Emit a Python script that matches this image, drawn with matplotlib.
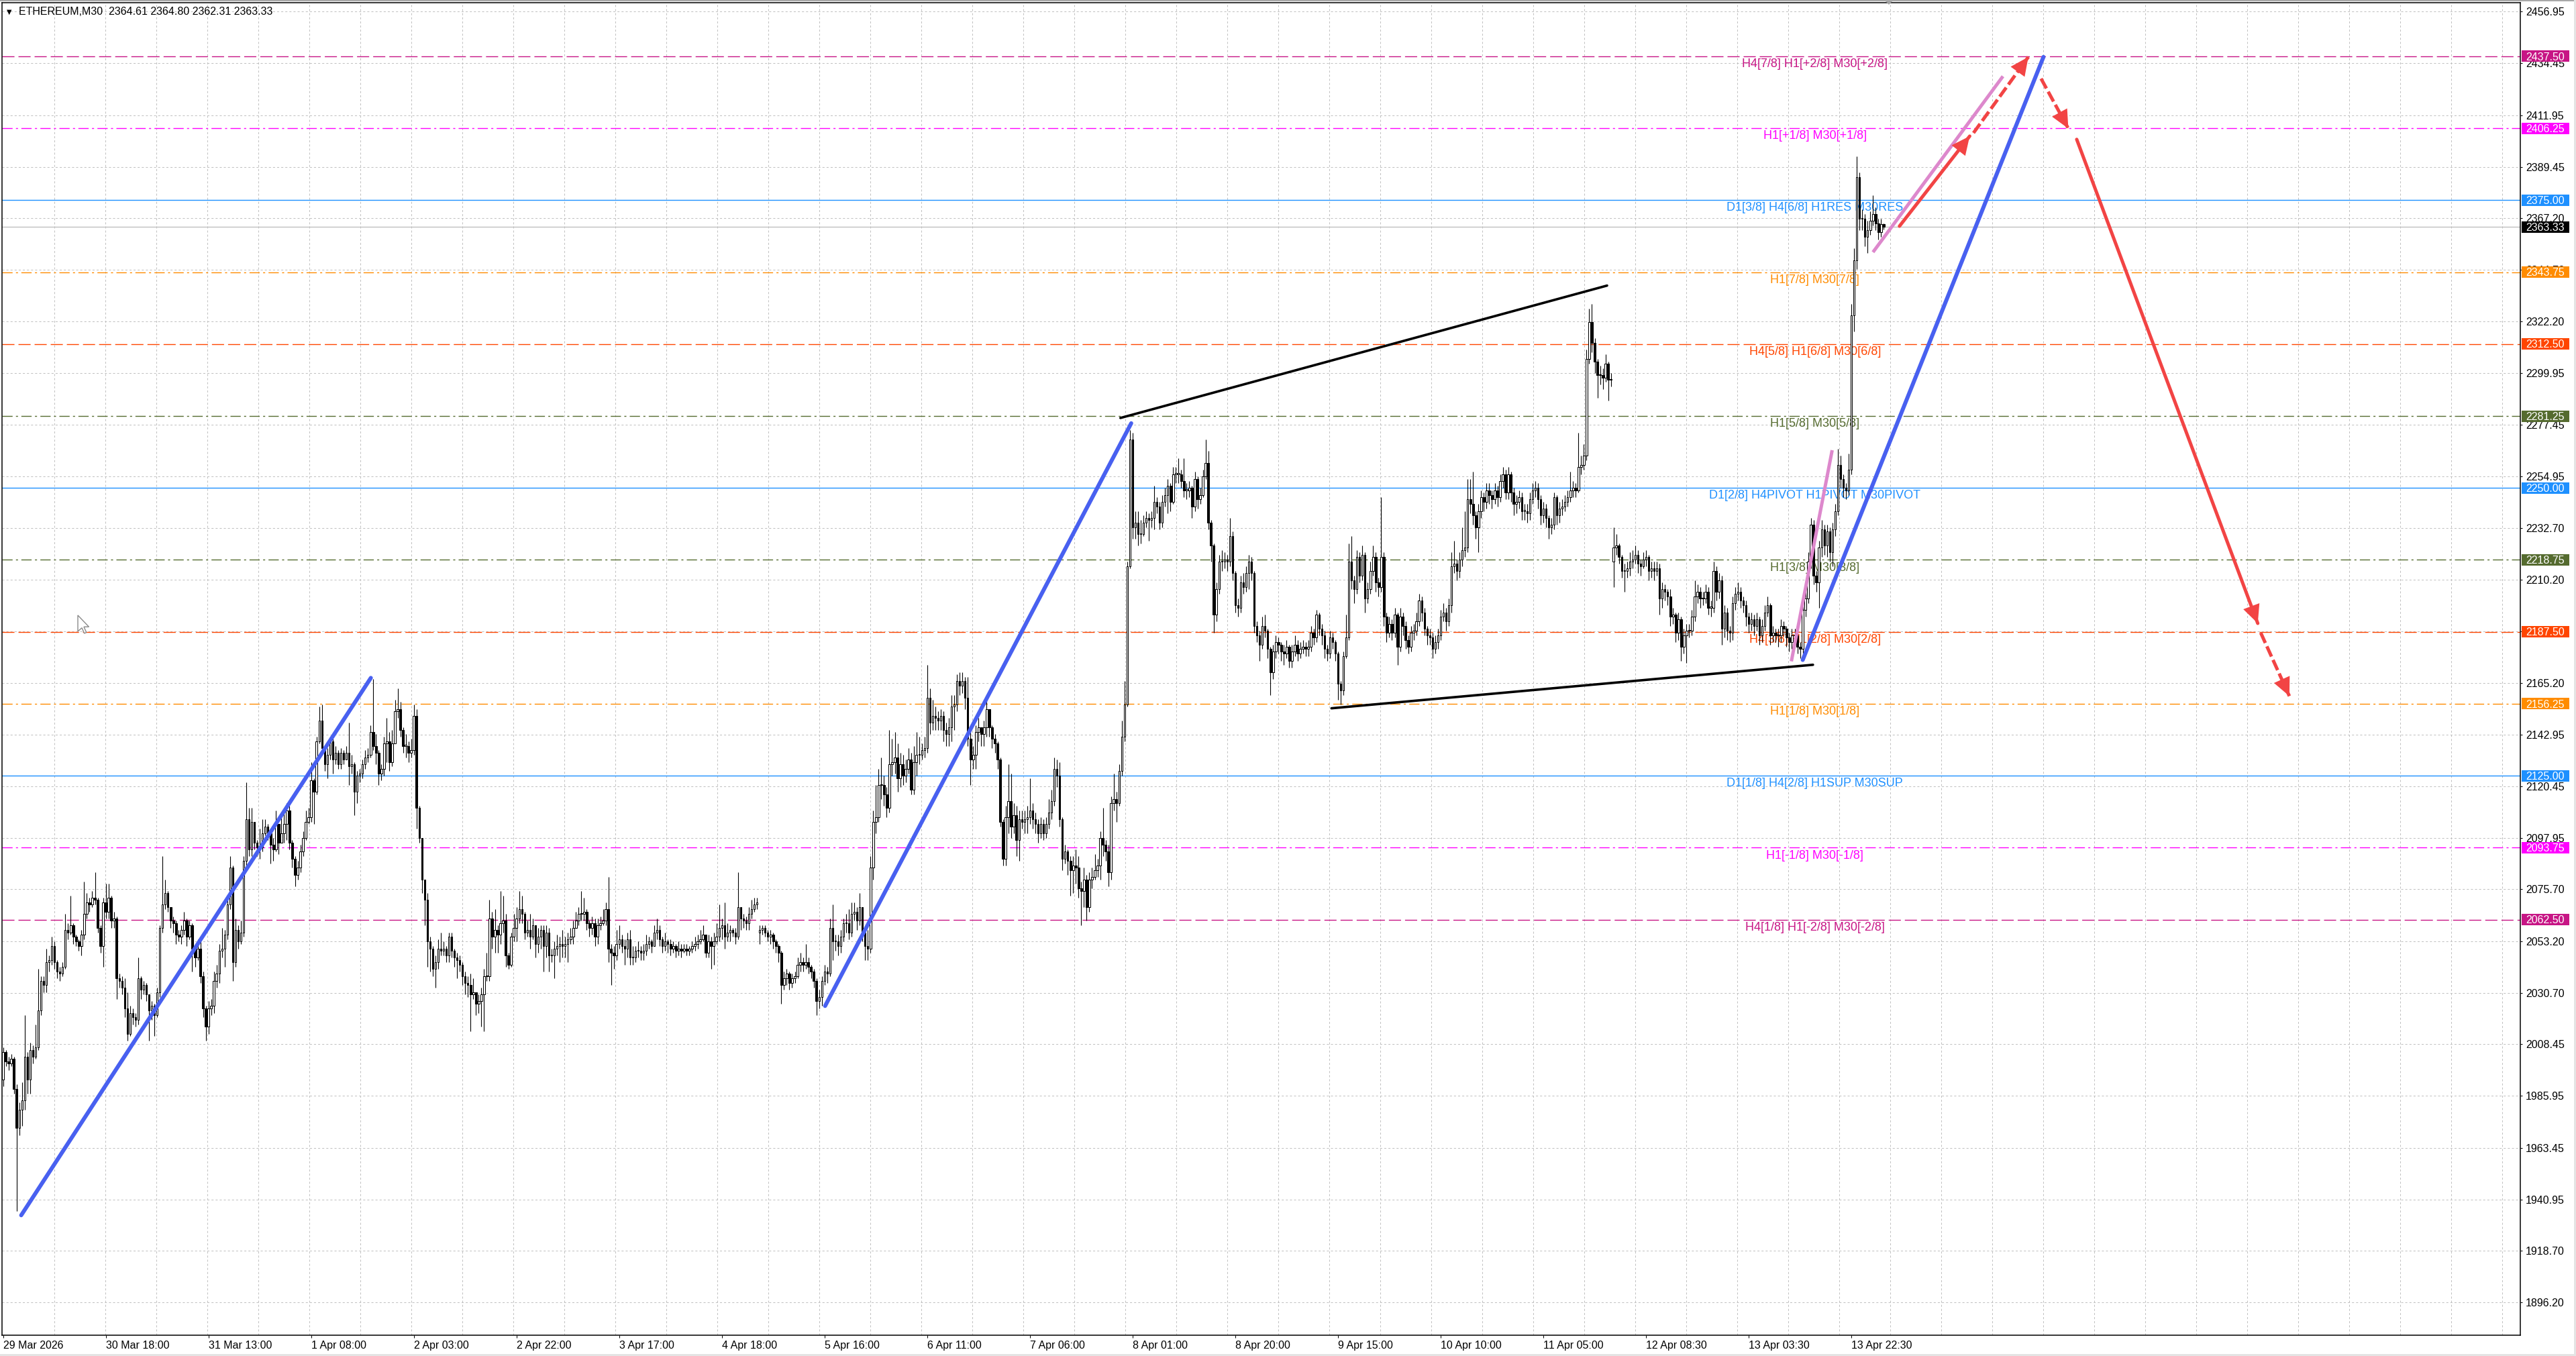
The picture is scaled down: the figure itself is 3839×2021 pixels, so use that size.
"""ETHEREUM M30 chart with Murrey-style levels and drawn projection lines."""

import matplotlib

matplotlib.use("Agg")
import matplotlib.pyplot as plt
import numpy as np
from matplotlib import font_manager
from matplotlib.patches import Polygon, Rectangle
from matplotlib.transforms import IdentityTransform

plt.rcParams["lines.scale_dashes"] = False

# ---------------------------------------------------------------- data
SYMBOL = "ETHEREUM,M30"
LAST_OHLC = [2364.61, 2364.80, 2362.31, 2363.33]

OPEN0 = 1993
GAP_OPENS = {280: 2057, 596: 2218}

CLOSES = [
    2005, 2001, 2000, 2002, 1989, 1972, 1980, 1984, 2003, 1993,
    2006, 2003, 2007, 2023, 2036, 2034, 2044, 2045, 2051, 2044,
    2040, 2039, 2042, 2058, 2057, 2060, 2055, 2053, 2051, 2056,
    2065, 2070, 2069, 2072, 2071, 2059, 2051, 2070, 2066, 2072,
    2062, 2063, 2037, 2036, 2033, 2024, 2013, 2022, 2020, 2019,
    2037, 2032, 2034, 2030, 2023, 2025, 2021, 2031, 2059, 2069,
    2074, 2068, 2062, 2061, 2056, 2055, 2058, 2062, 2055, 2060,
    2050, 2046, 2050, 2038, 2024, 2016, 2024, 2025, 2036, 2039,
    2049, 2050, 2056, 2069, 2085, 2044, 2058, 2053, 2057, 2088,
    2106, 2093, 2105, 2096, 2094, 2094, 2100, 2103, 2100, 2095,
    2093, 2104, 2096, 2100, 2104, 2110, 2096, 2089, 2082, 2085,
    2092, 2098, 2105, 2107, 2123, 2118, 2140, 2149, 2137, 2130,
    2134, 2140, 2132, 2135, 2130, 2135, 2132,
    2135, 2129, 2130, 2118, 2125, 2126, 2130, 2133, 2134,
    # 136
    2144, 2138, 2135, 2126, 2128, 2139, 2140, 2131, 2139, 2153,
    2154, 2145, 2138, 2138, 2135, 2136, 2151, 2111, 2098, 2080,
    2071, 2053, 2050, 2041, 2044, 2050, 2049, 2050, 2047, 2055,
    2049, 2046, 2045, 2043, 2038, 2035, 2034, 2030, 2031, 2026,
    2027, 2030, 2038, 2038, 2063, 2055, 2058, 2056, 2061, 2062,
    2047, 2043, 2055, 2059, 2063, 2067, 2065, 2057, 2058, 2055,
    2060, 2052, 2055, 2058, 2051, 2057, 2047, 2047, 2050, 2051,
    2052, 2051, 2052, 2054, 2055, 2059, 2062, 2065, 2065, 2066,
    2061, 2059, 2061, 2055, 2060, 2061, 2062, 2067, 2050, 2048,
    2047, 2052, 2054, 2051, 2050, 2054, 2046, 2046, 2049, 2049,
    2048, 2049, 2052, 2053, 2051, 2057, 2058, 2054, 2051, 2053,
    2052, 2050, 2051, 2049, 2050, 2049, 2050, 2049, 2050, 2051,
    2052, 2053, 2054, 2056, 2048, 2053, 2051, 2053, 2055, 2059,
    2060, 2055, 2057, 2058, 2057, 2055, 2068,
    # 273
    2063, 2062, 2061, 2065, 2067, 2069, 2070, 2058, 2059, 2057,
    2055, 2056, 2053, 2051, 2048, 2034, 2037, 2039, 2035, 2037,
    2038, 2043, 2044, 2043, 2044, 2042, 2040, 2036, 2027, 2029,
    2036, 2040, 2039, 2059, 2053, 2053, 2051, 2055, 2061, 2061,
    2057, 2065, 2066, 2062, 2068, 2057, 2051, 2050, 2085, 2105,
    2107, 2121, 2121, 2117, 2111, 2130, 2131, 2133, 2124, 2130,
    2125, 2128, 2132, 2119, 2131, 2134, 2134, 2136, 2137, 2159,
    2148, 2151,
    2150, 2149, 2151, 2145, 2143, 2146, 2155, 2156, 2166, 2164,
    2166, 2159, 2141, 2132, 2134, 2144, 2146, 2143, 2146, 2154,
    2146, 2141, 2139, 2132, 2105, 2089, 2107, 2114, 2103, 2108,
    2097, 2106, 2105, 2106,
    2107, 2110, 2106, 2104, 2100, 2104, 2100, 2104, 2109, 2114,
    2128, 2125, 2106, 2089, 2092, 2088, 2084, 2086, 2085, 2076,
    2075, 2080, 2068, 2080, 2081, 2084, 2086, 2098, 2095, 2092,
    2083, 2113, 2115, 2113, 2127, 2142, 2156, 2216, 2271, 2233,
    2235, 2230,
    # 421
    2230, 2235, 2237, 2236, 2237, 2244, 2242, 2235, 2244, 2247,
    2251, 2244, 2256, 2256, 2256, 2253, 2249, 2249, 2250, 2242,
    2254, 2245, 2247, 2255, 2261, 2235, 2225, 2195, 2206, 2218,
    2218, 2219, 2218, 2229, 2213, 2199, 2198, 2209, 2207, 2213,
    2218, 2213, 2190, 2186, 2182, 2190, 2188, 2180, 2170, 2179,
    2183, 2182, 2179, 2178, 2181, 2175, 2179, 2182, 2178, 2180,
    2181, 2180, 2181, 2187, 2185, 2195, 2189, 2186, 2180, 2178,
    2185, 2183, 2178, 2165, 2162, 2177, 2185, 2218, 2210, 2206,
    2220, 2212, 2221, 2202, 2206, 2214,
    2220, 2209, 2207, 2220, 2194, 2187, 2191, 2187, 2195, 2181,
    2194, 2190, 2184, 2181, 2187, 2188, 2192, 2201, 2196, 2189,
    2186, 2185, 2180, 2183, 2186, 2194, 2196, 2192, 2199, 2216,
    2217, 2214, 2219, 2223, 2224, 2245, 2243, 2238, 2233, 2240,
    2246, 2244, 2249, 2247, 2245, 2249, 2246, 2253, 2256, 2248,
    2256, 2248, 2243, 2244, 2246, 2240, 2240, 2239, 2245, 2249,
    2250,
    2245, 2238, 2241, 2237, 2233, 2234, 2246, 2238, 2241, 2242,
    2244, 2246, 2249, 2250, 2249, 2259, 2260, 2264, 2306, 2322,
    2313, 2305, 2299, 2299, 2298, 2304, 2297, 2297,
    # 596
    2224, 2225, 2220, 2214, 2214, 2215, 2218, 2219, 2221, 2217,
    2216, 2219, 2220, 2214, 2215, 2214, 2215, 2202, 2206, 2205,
    2203, 2194, 2195, 2187, 2193, 2181, 2186, 2188, 2188, 2194,
    2203, 2205, 2202, 2202, 2205, 2198, 2198, 2214, 2205, 2210,
    2189, 2196, 2188, 2187, 2200, 2204, 2205, 2201, 2199, 2194,
    2191, 2193, 2190, 2193, 2186, 2190, 2196, 2199, 2186, 2187,
    2186, 2186, 2190, 2189, 2185, 2183, 2186, 2186, 2181, 2180,
    2197, 2202, 2218, 2234, 2212, 2209, 2224, 2232, 2225, 2231,
    2222, 2232, 2240, 2260, 2254, 2250, 2249, 2258, 2325, 2349,
    2385, 2367, 2367, 2359, 2362, 2366, 2369, 2365, 2361, 2364.61, 2363.33,
]

HIGHS = [
    2007, 2006, 2003, 2004, 2003, 1991, 1983, 1992, 2021, 2005,
    2009, 2008, 2017, 2041, 2038, 2038, 2050, 2047, 2055, 2053,
    2045, 2042, 2044, 2065, 2061, 2073, 2061, 2056, 2054, 2058,
    2079, 2074, 2072, 2075, 2083, 2072, 2060, 2072, 2078, 2078,
    2073, 2066, 2064, 2039, 2038, 2037, 2031, 2025, 2024, 2022,
    2046, 2038, 2036, 2035, 2030, 2027, 2026, 2033, 2060, 2090,
    2080, 2075, 2068, 2064, 2062, 2058, 2060, 2066, 2063, 2062,
    2061, 2052, 2054, 2053, 2040, 2025, 2027, 2028, 2040, 2043,
    2052, 2059, 2058, 2072, 2090, 2086, 2063, 2060, 2062, 2090,
    2122, 2111, 2111, 2103, 2097, 2102, 2106, 2106, 2104, 2101,
    2098, 2110, 2099, 2108, 2109, 2113, 2112, 2097, 2090, 2088,
    2095, 2101, 2110, 2111, 2131, 2124, 2142, 2155, 2156, 2138,
    2137, 2142, 2141, 2138, 2136, 2137, 2136,
    2138, 2148, 2134, 2131, 2127, 2128, 2132, 2136, 2137,
    2147, 2167, 2143, 2136, 2130, 2142, 2150, 2144, 2145, 2158,
    2163, 2157, 2146, 2143, 2140, 2141, 2156, 2154, 2112, 2098,
    2080, 2074, 2055, 2051, 2047, 2054, 2057, 2053, 2051, 2057,
    2057, 2050, 2048, 2047, 2044, 2040, 2038, 2039, 2037, 2031,
    2030, 2033, 2041, 2048, 2071, 2066, 2067, 2060, 2075, 2073,
    2065, 2048, 2057, 2065, 2068, 2075, 2073, 2066, 2062, 2065,
    2063, 2060, 2059, 2060, 2060, 2060, 2059, 2050, 2053, 2056,
    2055, 2058, 2055, 2057, 2059, 2062, 2066, 2068, 2075, 2072,
    2067, 2062, 2064, 2063, 2063, 2064, 2067, 2070, 2081, 2052,
    2051, 2058, 2060, 2056, 2054, 2057, 2058, 2051, 2051, 2053,
    2051, 2052, 2056, 2055, 2054, 2060, 2063, 2060, 2055, 2057,
    2054, 2054, 2053, 2052, 2053, 2052, 2052, 2052, 2051, 2053,
    2055, 2056, 2058, 2060, 2051, 2056, 2055, 2057, 2061, 2069,
    2063, 2070, 2061, 2060, 2059, 2059, 2083,
    2068, 2065, 2064, 2068, 2071, 2072, 2072, 2060, 2060, 2060,
    2058, 2058, 2057, 2054, 2052, 2049, 2040, 2041, 2040, 2039,
    2040, 2046, 2048, 2046, 2052, 2046, 2043, 2041, 2037, 2032,
    2038, 2043, 2042, 2063, 2069, 2056, 2056, 2058, 2063, 2065,
    2067, 2070, 2070, 2068, 2074, 2067, 2058, 2058, 2090, 2110,
    2121, 2128, 2133, 2125, 2120, 2145, 2141, 2144, 2139, 2135,
    2134, 2132, 2137, 2135, 2138, 2144, 2142, 2139, 2142, 2173,
    2163, 2158,
    2155, 2153, 2154, 2153, 2148, 2150, 2160, 2160, 2169, 2170,
    2170, 2168, 2168, 2145, 2138, 2147, 2150, 2146, 2149, 2158,
    2154, 2147, 2143, 2140, 2133, 2106, 2112, 2130, 2126, 2113,
    2112, 2110, 2110, 2110,
    2112, 2124, 2113, 2109, 2106, 2107, 2106, 2107, 2115, 2119,
    2133, 2132, 2131, 2107, 2095, 2093, 2090, 2090, 2093, 2090,
    2079, 2085, 2082, 2083, 2085, 2091, 2089, 2101, 2111, 2097,
    2095, 2116, 2126, 2118, 2130, 2149, 2166, 2218, 2275, 2274,
    2240, 2240,
    2236, 2238, 2240, 2239, 2240, 2251, 2246, 2244, 2247, 2250,
    2254, 2252, 2259, 2259, 2263, 2258, 2263, 2252, 2253, 2251,
    2257, 2255, 2250, 2258, 2271, 2266, 2236, 2226, 2209, 2221,
    2223, 2222, 2221, 2237, 2231, 2214, 2202, 2212, 2213, 2216,
    2221, 2220, 2214, 2192, 2188, 2194, 2195, 2189, 2181, 2182,
    2186, 2185, 2183, 2182, 2184, 2182, 2182, 2186, 2184, 2183,
    2184, 2183, 2184, 2190, 2189, 2197, 2196, 2191, 2188, 2182,
    2188, 2187, 2184, 2179, 2166, 2179, 2195, 2226, 2229, 2212,
    2223, 2222, 2225, 2222, 2209, 2218,
    2225, 2222, 2211, 2246, 2222, 2196, 2194, 2193, 2198, 2196,
    2198, 2196, 2192, 2186, 2190, 2191, 2196, 2204, 2203, 2198,
    2190, 2189, 2187, 2186, 2189, 2197, 2200, 2198, 2202, 2222,
    2227, 2219, 2222, 2233, 2240, 2254, 2254, 2257, 2240, 2243,
    2249, 2248, 2252, 2252, 2249, 2252, 2251, 2256, 2259, 2258,
    2259, 2257, 2250, 2247, 2249, 2248, 2243, 2243, 2248, 2252,
    2253,
    2252, 2247, 2244, 2243, 2238, 2237, 2248, 2247, 2244, 2245,
    2247, 2249, 2257, 2253, 2252, 2274, 2264, 2269, 2310, 2328,
    2330, 2315, 2306, 2303, 2302, 2308, 2305, 2300,
    2233, 2230, 2226, 2221, 2217, 2218, 2222, 2223, 2225, 2223,
    2219, 2222, 2223, 2221, 2218, 2218, 2218, 2217, 2209, 2208,
    2206, 2206, 2198, 2196, 2196, 2194, 2189, 2191, 2191, 2197,
    2210, 2208, 2207, 2205, 2208, 2207, 2201, 2218, 2216, 2213,
    2212, 2199, 2198, 2190, 2203, 2207, 2209, 2207, 2203, 2201,
    2196, 2196, 2195, 2196, 2194, 2193, 2199, 2203, 2200, 2190,
    2189, 2189, 2193, 2192, 2190, 2187, 2189, 2189, 2188, 2183,
    2200, 2205, 2222, 2237, 2236, 2214, 2227, 2236, 2234, 2234,
    2233, 2235, 2243, 2267, 2264, 2256, 2252, 2265, 2330, 2354,
    2394, 2387, 2371, 2369, 2366, 2370, 2377, 2372, 2367, 2367, 2364.80,
]

LOWS = [
    1990, 1999, 1997, 1999, 1987, 1936, 1969, 1973, 1980, 1987,
    1987, 2000, 2002, 2006, 2021, 2031, 2031, 2040, 2043, 2041,
    2037, 2036, 2038, 2041, 2054, 2056, 2052, 2051, 2049, 2047,
    2054, 2063, 2066, 2068, 2069, 2057, 2048, 2042, 2063, 2063,
    2059, 2059, 2028, 2033, 2030, 2020, 2010, 2012, 2017, 2016,
    2017, 2028, 2030, 2027, 2010, 2019, 2012, 2020, 2029, 2057,
    2067, 2066, 2059, 2057, 2052, 2053, 2052, 2056, 2051, 2054,
    2040, 2042, 2045, 2035, 2020, 2010, 2013, 2021, 2022, 2033,
    2035, 2046, 2042, 2054, 2067, 2036, 2042, 2050, 2052, 2055,
    2086, 2090, 2090, 2093, 2090, 2089, 2092, 2099, 2097, 2087,
    2088, 2092, 2091, 2096, 2096, 2097, 2093, 2085, 2077, 2080,
    2083, 2090, 2097, 2104, 2105, 2104, 2117, 2139, 2135, 2127,
    2124, 2132, 2126, 2130, 2128, 2128, 2130,
    2132, 2121, 2126, 2108, 2113, 2122, 2124, 2128, 2131,
    2133, 2136, 2130, 2121, 2123, 2125, 2131, 2127, 2129, 2144,
    2150, 2142, 2135, 2133, 2131, 2133, 2134, 2102, 2096, 2074,
    2060, 2042, 2040, 2038, 2033, 2041, 2047, 2047, 2044, 2044,
    2046, 2042, 2037, 2040, 2034, 2030, 2029, 2014, 2028, 2021,
    2022, 2016, 2014, 2036, 2036, 2050, 2048, 2048, 2052, 2057,
    2042, 2041, 2042, 2053, 2053, 2061, 2061, 2054, 2055, 2050,
    2054, 2046, 2048, 2050, 2040, 2046, 2040, 2044, 2037, 2047,
    2044, 2046, 2046, 2044, 2052, 2052, 2059, 2060, 2062, 2062,
    2058, 2055, 2056, 2051, 2052, 2058, 2060, 2060, 2044, 2034,
    2041, 2045, 2050, 2048, 2043, 2046, 2043, 2043, 2044, 2046,
    2045, 2045, 2047, 2050, 2048, 2051, 2054, 2051, 2048, 2049,
    2048, 2047, 2048, 2046, 2047, 2046, 2048, 2047, 2047, 2048,
    2049, 2050, 2052, 2053, 2046, 2046, 2041, 2043, 2052, 2053,
    2054, 2050, 2053, 2053, 2055, 2052, 2054,
    2058, 2059, 2058, 2058, 2063, 2066, 2067, 2052, 2056, 2055,
    2053, 2052, 2050, 2048, 2044, 2026, 2032, 2034, 2032, 2033,
    2035, 2037, 2040, 2040, 2041, 2039, 2037, 2033, 2021, 2024,
    2025, 2034, 2035, 2038, 2045, 2049, 2047, 2048, 2053, 2057,
    2054, 2055, 2062, 2058, 2060, 2053, 2045, 2045, 2048, 2080,
    2100, 2105, 2115, 2112, 2107, 2109, 2125, 2126, 2118, 2120,
    2121, 2122, 2126, 2117, 2117, 2125, 2130, 2132, 2133, 2135,
    2143, 2145,
    2145, 2145, 2145, 2140, 2138, 2138, 2140, 2145, 2153, 2160,
    2161, 2154, 2138, 2121, 2128, 2128, 2140, 2138, 2138, 2142,
    2142, 2137, 2135, 2128, 2103, 2086, 2086, 2100, 2098, 2100,
    2090, 2088, 2102, 2100,
    2100, 2104, 2102, 2100, 2096, 2098, 2097, 2098, 2102, 2106,
    2112, 2120, 2103, 2084, 2087, 2082, 2073, 2074, 2078, 2072,
    2060, 2068, 2062, 2066, 2076, 2080, 2081, 2080, 2090, 2088,
    2077, 2080, 2110, 2105, 2112, 2125, 2140, 2155, 2215, 2228,
    2228, 2225,
    2226, 2229, 2233, 2227, 2233, 2232, 2239, 2232, 2233, 2242,
    2239, 2240, 2243, 2252, 2252, 2250, 2246, 2245, 2246, 2237,
    2240, 2241, 2243, 2246, 2254, 2232, 2218, 2187, 2192, 2204,
    2214, 2215, 2214, 2216, 2210, 2196, 2194, 2196, 2204, 2205,
    2206, 2210, 2187, 2183, 2175, 2180, 2185, 2176, 2160, 2167,
    2176, 2178, 2175, 2173, 2176, 2172, 2172, 2177, 2175, 2176,
    2178, 2177, 2177, 2179, 2182, 2183, 2186, 2182, 2176, 2175,
    2176, 2180, 2175, 2158, 2156, 2160, 2176, 2184, 2206, 2200,
    2204, 2209, 2210, 2196, 2200, 2204,
    2212, 2205, 2203, 2205, 2190, 2183, 2185, 2184, 2185, 2173,
    2179, 2186, 2180, 2178, 2179, 2184, 2186, 2190, 2192, 2186,
    2182, 2182, 2176, 2178, 2180, 2184, 2192, 2188, 2190, 2196,
    2213, 2210, 2211, 2216, 2220, 2222, 2239, 2234, 2228, 2222,
    2237, 2240, 2241, 2243, 2241, 2243, 2242, 2244, 2250, 2245,
    2245, 2244, 2238, 2239, 2241, 2236, 2236, 2235, 2236, 2243,
    2246,
    2241, 2234, 2235, 2233, 2228, 2230, 2232, 2234, 2235, 2238,
    2240, 2242, 2244, 2246, 2246, 2248, 2256, 2258, 2262, 2304,
    2309, 2300, 2289, 2295, 2293, 2296, 2288, 2294,
    2207, 2221, 2217, 2211, 2205, 2211, 2212, 2215, 2217, 2213,
    2212, 2215, 2216, 2210, 2211, 2210, 2212, 2195, 2198, 2201,
    2199, 2190, 2191, 2183, 2184, 2175, 2178, 2174, 2185, 2186,
    2192, 2200, 2198, 2199, 2200, 2195, 2194, 2196, 2201, 2202,
    2182, 2185, 2184, 2183, 2184, 2197, 2201, 2198, 2196, 2190,
    2187, 2188, 2186, 2188, 2182, 2183, 2188, 2194, 2182, 2183,
    2183, 2181, 2183, 2186, 2181, 2179, 2180, 2183, 2178, 2176,
    2178, 2194, 2200, 2215, 2208, 2205, 2198, 2220, 2221, 2220,
    2218, 2216, 2229, 2238, 2250, 2246, 2245, 2247, 2256, 2318,
    2345, 2362, 2362, 2355, 2352, 2360, 2364, 2362, 2358, 2359, 2362.31,
]

# time-axis labels, one every 38 bars
TIME_LABELS = [
    "29 Mar 2026", "30 Mar 18:00", "31 Mar 13:00", "1 Apr 08:00", "2 Apr 03:00",
    "2 Apr 22:00", "3 Apr 17:00", "4 Apr 18:00", "5 Apr 16:00", "6 Apr 11:00",
    "7 Apr 06:00", "8 Apr 01:00", "8 Apr 20:00", "9 Apr 15:00", "10 Apr 10:00",
    "11 Apr 05:00", "12 Apr 08:30", "13 Apr 03:30", "13 Apr 22:30",
]
BARS_PER_LABEL = 38

PRICE_TICKS = [
    2456.95, 2434.45, 2411.95, 2389.45, 2367.20, 2344.70, 2322.20, 2299.95,
    2277.45, 2254.95, 2232.70, 2210.20, 2187.70, 2165.20, 2142.95, 2120.45,
    2097.95, 2075.70, 2053.20, 2030.70, 2008.45, 1985.95, 1963.45, 1940.95,
    1918.70, 1896.20,
]

# (price, colour, style, caption)
LEVELS = [
    (2437.50, "#C71585", "dash", "H4[7/8] H1[+2/8] M30[+2/8]"),
    (2406.25, "#FF00FF", "dashdot", "H1[+1/8] M30[+1/8]"),
    (2375.00, "#1E90FF", "solid", "D1[3/8] H4[6/8] H1RES M30RES"),
    (2343.75, "#FF8C00", "dashdot", "H1[7/8] M30[7/8]"),
    (2312.50, "#FF4500", "dash", "H4[5/8] H1[6/8] M30[6/8]"),
    (2281.25, "#556B2F", "dashdot", "H1[5/8] M30[5/8]"),
    (2250.00, "#1E90FF", "solid", "D1[2/8] H4PIVOT H1PIVOT M30PIVOT"),
    (2218.75, "#556B2F", "dashdot", "H1[3/8] M30[3/8]"),
    (2187.50, "#FF4500", "dash", "H4[3/8] H1[2/8] M30[2/8]"),
    (2156.25, "#FF8C00", "dashdot", "H1[1/8] M30[1/8]"),
    (2125.00, "#1E90FF", "solid", "D1[1/8] H4[2/8] H1SUP M30SUP"),
    (2093.75, "#FF00FF", "dashdot", "H1[-1/8] M30[-1/8]"),
    (2062.50, "#C71585", "dash", "H4[1/8] H1[-2/8] M30[-2/8]"),
]
LEVEL_CAPTION_BAR = 670.5

# drawn objects: (bar, price) end points
BLUE_LINES = [
    [(6.7, 1934.1), (136.1, 2167.5)],
    [(304.2, 2025.0), (417.5, 2278.1)],
    [(666.0, 2175.3), (755.1, 2437.2)],
]
BLACK_LINES = [
    [(413.5, 2280.4), (593.6, 2337.9)],
    [(491.6, 2154.3), (669.8, 2173.2)],
]
PINK_LINES = [
    [(661.8, 2174.7), (676.9, 2266.4)],
    [(692.0, 2352.4), (740.1, 2428.8)],
]
# (start, tip, dashed)
RED_ARROWS = [
    ((701.8, 2363.7), (727.8, 2402.8), False),
    ((729.2, 2404.2), (749.5, 2437.2), True),
    ((754.2, 2427.8), (764.3, 2406.1), True),
    ((767.4, 2401.4), (834.4, 2191.2), False),
    ((835.5, 2187.1), (846.1, 2159.6), True),
]

# ---------------------------------------------------------------- layout
W, H = 3839, 2021
FRAME_L, FRAME_T, FRAME_R, FRAME_B = 3, 4, 3756, 1990
PX_PER_BAR = 4.027
BAR0_PX = 4.6
PX_PER_PRICE = 3.4315
REF_PRICE, REF_PX = 2456.95, 17.1

installed = {f.name for f in font_manager.fontManager.ttflist}
if "Liberation Sans Narrow" in installed:
    AXIS_FONT, AXIS_SIZE = "Liberation Sans Narrow", 14
else:
    AXIS_FONT, AXIS_SIZE = "Liberation Sans", 11.5
LABEL_FONT = "Liberation Sans" if "Liberation Sans" in installed else "DejaVu Sans"

BLUE = "#4860F0"
PINK = "#DD88CC"
RED = "#F24444"
GRID = "#C0C0C0"
PX = 0.72  # one pixel in points at dpi=100

DASH = (0, (13, 4.3))
DASHDOT = (0, (11, 3.6, 2.2, 3.6))


def main() -> None:
    fig = plt.figure(figsize=(W / 100, H / 100), dpi=100)
    fig.patch.set_facecolor("white")
    ax = fig.add_axes([
        FRAME_L / W, 1 - FRAME_B / H,
        (FRAME_R - FRAME_L) / W, (FRAME_B - FRAME_T) / H,
    ])
    x_lo = (FRAME_L - BAR0_PX) / PX_PER_BAR
    x_hi = (FRAME_R - BAR0_PX) / PX_PER_BAR
    y_lo = REF_PRICE - (FRAME_B - REF_PX) / PX_PER_PRICE
    y_hi = REF_PRICE + (REF_PX - FRAME_T) / PX_PER_PRICE
    ax.set_xlim(x_lo, x_hi)
    ax.set_ylim(y_lo, y_hi)

    # grid: horizontal at price ticks, vertical every 76 px
    for p in PRICE_TICKS:
        ax.axhline(p, color=GRID, lw=PX, linestyle=(0, (2.2, 2.2)), zorder=0)
    step = 76 / PX_PER_BAR
    gx = step
    while gx < x_hi:
        ax.axvline(gx, color=GRID, lw=PX, linestyle=(0, (2.2, 2.2)), zorder=0)
        gx += step

    # levels and captions
    styles = {"dash": DASH, "dashdot": DASHDOT, "solid": "-"}
    for price, color, style, caption in LEVELS:
        ax.axhline(price, color=color, lw=1.0, linestyle=styles[style], zorder=1)
        ax.text(LEVEL_CAPTION_BAR, price - 0.9, caption, color=color, ha="center",
                va="top", fontsize=13, family=LABEL_FONT, zorder=1.5)
    ax.axhline(LAST_OHLC[3], color="#C0C0C0", lw=1.0, zorder=1)

    # candles
    n = min(len(CLOSES), len(HIGHS), len(LOWS))
    c = np.array(CLOSES[:n], dtype=float)
    o = np.empty(n)
    o[0] = OPEN0
    o[1:] = c[:-1]
    for i, v in GAP_OPENS.items():
        if i < n:
            o[i] = v
    o[n - 1] = LAST_OHLC[0]
    hi = np.maximum(np.array(HIGHS[:n], dtype=float), np.maximum(o, c))
    lo = np.minimum(np.array(LOWS[:n], dtype=float), np.minimum(o, c))
    x = np.arange(n)
    up = c >= o
    body_b = np.minimum(o, c)
    body_h = np.maximum(np.abs(c - o), 0.35)
    ax.vlines(x, lo, hi, color="black", lw=0.8, zorder=3)
    ax.bar(x[up], body_h[up], bottom=body_b[up], width=0.62, color="white",
           edgecolor="black", linewidth=0.75, zorder=4)
    ax.bar(x[~up], body_h[~up], bottom=body_b[~up], width=0.62, color="black",
           edgecolor="black", linewidth=0.75, zorder=4)

    # drawn lines
    for (x0, y0), (x1, y1) in BLACK_LINES:
        ax.plot([x0, x1], [y0, y1], color="black", lw=2.6, solid_capstyle="round", zorder=5)
    for (x0, y0), (x1, y1) in BLUE_LINES:
        ax.plot([x0, x1], [y0, y1], color=BLUE, lw=4.3, solid_capstyle="round", zorder=5)
    for (x0, y0), (x1, y1) in PINK_LINES:
        ax.plot([x0, x1], [y0, y1], color=PINK, lw=3.6, solid_capstyle="butt", zorder=5)
    for (x0, y0), (x1, y1), dashed in RED_ARROWS:
        ls = (0, (12, 4)) if dashed else "-"
        ax.plot([x0, x1], [y0, y1], color=RED, lw=3.6, linestyle=ls,
                solid_capstyle="round", dash_capstyle="butt", zorder=6)
        bx, by = x1 - 0.05 * (x1 - x0), y1 - 0.05 * (y1 - y0)
        ax.annotate("", xy=(x1, y1), xytext=(bx, by),
                    arrowprops=dict(arrowstyle="-|>,head_length=0.7,head_width=0.33",
                                    color=RED, lw=0, mutation_scale=28,
                                    shrinkA=0, shrinkB=0),
                    zorder=6)

    # axes, ticks
    for sp in ax.spines.values():
        sp.set_color("black")
        sp.set_linewidth(1.1)
    ax.yaxis.tick_right()
    ax.set_yticks(PRICE_TICKS)
    ax.set_yticklabels([f"{p:.2f}" for p in PRICE_TICKS])
    ax.set_xticks([k * BARS_PER_LABEL for k in range(len(TIME_LABELS))])
    ax.set_xticklabels(TIME_LABELS)
    for lab in ax.get_xticklabels():
        lab.set_horizontalalignment("left")
    ax.tick_params(axis="y", length=2.2, width=PX, pad=3.6, labelsize=AXIS_SIZE)
    ax.tick_params(axis="x", length=2.9, width=PX, pad=3.0, labelsize=AXIS_SIZE)
    for lab in ax.get_xticklabels() + ax.get_yticklabels():
        lab.set_family(AXIS_FONT)

    # price boxes on the right scale
    trans = ax.get_yaxis_transform()
    span = FRAME_R - FRAME_L
    bx0 = (3758 - FRAME_L) / span
    bw = (3829 - 3758) / span
    bh = 17 / PX_PER_PRICE
    boxes = [(p, col) for p, col, _, _ in LEVELS] + [(LAST_OHLC[3], "black")]
    for p, col in boxes:
        ax.add_patch(Rectangle((bx0, p - bh / 2), bw, bh, transform=trans,
                               facecolor=col, edgecolor="none", clip_on=False, zorder=8))
        ax.text(bx0 + bw / 2, p - 0.35, f"{p:.2f}", transform=trans, color="white",
                ha="center", va="center", fontsize=AXIS_SIZE, family=AXIS_FONT,
                clip_on=False, zorder=9)

    # header
    head = f"{SYMBOL}  " + " ".join(f"{v:.2f}" for v in LAST_OHLC)
    fig.text(28.5 / W, 1 - 17.5 / H, head, fontsize=AXIS_SIZE, family=AXIS_FONT,
             va="center", ha="left")
    fig.text(13.5 / W, 1 - 17.5 / H, "\u25bc", fontsize=7, family="DejaVu Sans",
             va="center", ha="center")

    # mouse pointer left on the chart
    tip_x, tip_y = 116, 917
    shape = [(0, 0), (0, 16), (4, 12.5), (6.5, 18), (8.5, 17), (6, 11.5), (11, 11.5)]
    pts = [(tip_x + 1.5 * sx, H - (tip_y + 1.5 * sy)) for sx, sy in shape]
    fig.add_artist(Polygon(pts, closed=True, facecolor="white", edgecolor="#8A8A8A",
                           linewidth=1.0, transform=IdentityTransform(), zorder=10))

    # chart-shift marker and window edges
    fig.add_artist(Polygon([(2809, H - 1), (2821, H - 1), (2815, H - 7)], closed=True,
                           facecolor="#A0A0A0", edgecolor="none",
                           transform=IdentityTransform(), zorder=10))
    fig.add_artist(Rectangle((0, H - 1.5), W, 1.5, facecolor="#A8A8A8", edgecolor="none",
                             transform=IdentityTransform(), zorder=10))
    fig.add_artist(Rectangle((0, 0), W, 3, facecolor="#E4E4E4", edgecolor="none",
                             transform=IdentityTransform(), zorder=10))
    fig.add_artist(Rectangle((W - 3, 0), 3, H, facecolor="#E4E4E4", edgecolor="none",
                             transform=IdentityTransform(), zorder=10))

    fig.savefig("out.png", dpi=100, facecolor="white")
    plt.close(fig)


if __name__ == "__main__":
    main()
